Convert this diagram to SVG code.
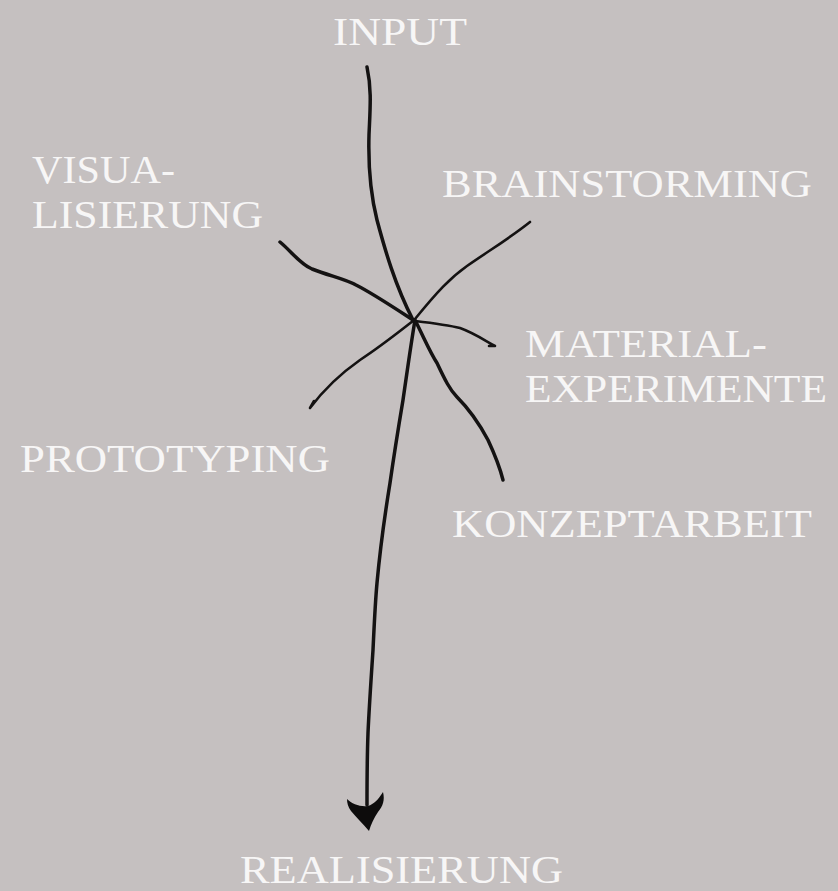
<svg xmlns="http://www.w3.org/2000/svg" width="838" height="891" viewBox="0 0 838 891">
<style>
.lbl{font-family:"Liberation Serif","DejaVu Serif",serif;font-size:39px;fill:#f7f6f6;}
.ln{fill:none;stroke:#141212;stroke-width:3.5;stroke-linecap:round;stroke-linejoin:round;}
.thin{stroke-width:2.6;}
</style>
<rect width="838" height="891" fill="#c5c0c0"/>
<g id="connectors">
<path class="ln" d="M367,67 C372,90 370,110 369,135 C368,170 372,200 377,220 C385,250 395,285 413,320"/>
<path class="ln" d="M280,242 C292,252 300,264 312,269 C330,276 345,279 356,285 C372,293 390,305 413,320"/>
<path class="ln thin" d="M530,222 C510,238 490,250 467,266 C450,278 437,292 415,319"/>
<path class="ln thin" d="M415,321 C432,323 448,325 460,328 C474,333 484,340 495,346 M495,346 L489,346"/>
<path class="ln thin" d="M413,321 C395,335 380,347 360,360 C340,374 325,388 310,408 M310,408 L314,401"/>
<path class="ln" d="M416,322 C425,340 430,352 437,363 C445,380 450,390 457,397 C470,410 480,425 488,440 C495,455 500,468 503,480"/>
<path class="ln" d="M415,320 C410,350 406,380 403,400 C398,430 394,455 390,483 C384,520 380,550 377,583 C375,605 374,630 373,650 C371,680 369,710 368,733 C367,760 367,780 367,805"/>
<path d="M347,799 C352,804 360,807 368,806 C374,804 378,800 383,792 C385,800 383,806 378,812 C374,818 371,824 369,831 C362,823 356,817 351,811 C348,807 347,803 347,799 Z" fill="#0d0c0c"/>
</g>
<g id="input"><text class="lbl" x="333" y="45" textLength="134" lengthAdjust="spacingAndGlyphs">INPUT</text></g>
<g id="visualisierung">
<text class="lbl" x="32" y="183" textLength="143" lengthAdjust="spacingAndGlyphs">VISUA-</text>
<text class="lbl" x="32" y="228" textLength="231" lengthAdjust="spacingAndGlyphs">LISIERUNG</text>
</g>
<g id="brainstorming"><text class="lbl" x="442" y="197" textLength="370" lengthAdjust="spacingAndGlyphs">BRAINSTORMING</text></g>
<g id="materialexperimente">
<text class="lbl" x="525" y="357" textLength="242" lengthAdjust="spacingAndGlyphs">MATERIAL-</text>
<text class="lbl" x="525" y="402" textLength="302" lengthAdjust="spacingAndGlyphs">EXPERIMENTE</text>
</g>
<g id="prototyping"><text class="lbl" x="20" y="472" textLength="310" lengthAdjust="spacingAndGlyphs">PROTOTYPING</text></g>
<g id="konzeptarbeit"><text class="lbl" x="452" y="537" textLength="360" lengthAdjust="spacingAndGlyphs">KONZEPTARBEIT</text></g>
<g id="realisierung"><text class="lbl" x="240" y="883" textLength="323" lengthAdjust="spacingAndGlyphs">REALISIERUNG</text></g>
</svg>
